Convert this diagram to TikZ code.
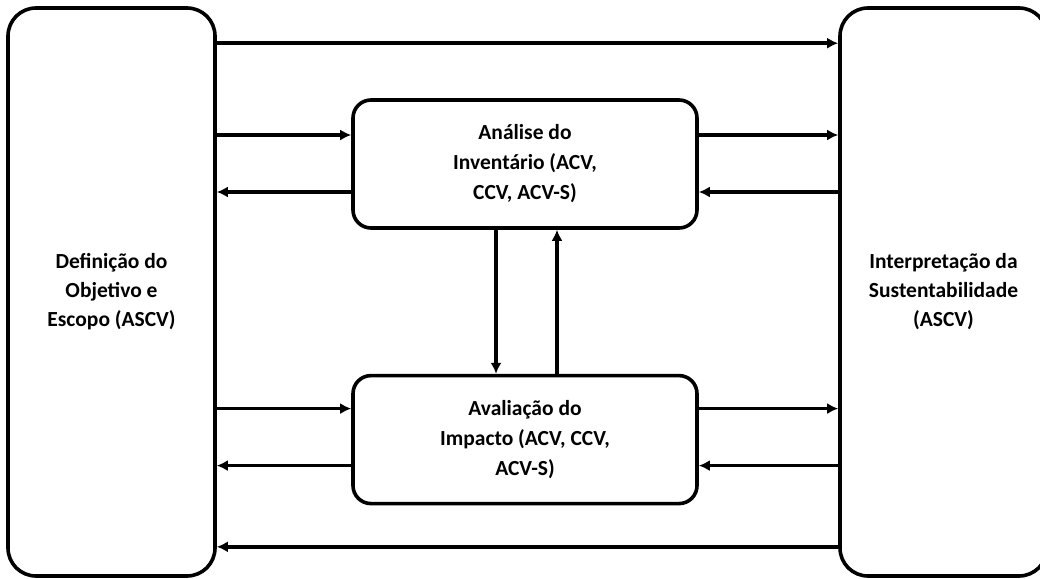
\documentclass[tikz,border=0pt]{standalone}
\usepackage{fontspec}
\setmainfont{Carlito}
\usepackage{tikz}
\usetikzlibrary{arrows.meta, positioning}

\begin{document}
\begin{tikzpicture}[
        x=1pt, y=-1pt,
        bigblock/.style={rectangle, rounded corners=28pt, draw, line width=3.6pt,
                      minimum width=207pt, minimum height=568pt,
                      align=center, font=\fontsize{21.5}{29}\selectfont\bfseries},
        block/.style={rectangle, rounded corners=18pt, draw, line width=3.6pt,
                      minimum width=344pt, minimum height=128pt,
                      align=center, font=\fontsize{21.5}{30}\selectfont\bfseries},
        arrow/.style={-{Latex[length=11pt, width=11pt]}, line width=3.6pt},
    ]
        \useasboundingbox (0,0) rectangle (1040,578);

        \node[bigblock] (objetivo) at (111.5,292) {Definição do\\Objetivo e\\Escopo (ASCV)};
        \node[bigblock] (interpretacao) at (943.5,292) {Interpretação da\\Sustentabilidade\\(ASCV)};
        \node[block] (inventario) at (525,164) {Análise do\\Inventário (ACV,\\CCV, ACV-S)};
        \node[block, below=144pt of inventario] (impacto) {Avaliação do\\Impacto (ACV, CCV,\\ACV-S)};

        % outer loop
        \draw[arrow] ([yshift=-37pt]objetivo.north east) -- ([yshift=-37pt]interpretacao.north west);
        \draw[arrow] ([yshift=31pt]interpretacao.south west) -- ([yshift=31pt]objetivo.south east);

        % inventory
        \draw[arrow] ([yshift=29pt]inventario.west -| objetivo.east) -- ([yshift=29pt]inventario.west);
        \draw[arrow] ([yshift=-28pt]inventario.west) -- ([yshift=-28pt]inventario.west -| objetivo.east);
        \draw[arrow] ([yshift=29pt]inventario.east) -- ([yshift=29pt]inventario.east -| interpretacao.west);
        \draw[arrow] ([yshift=-28pt]inventario.east -| interpretacao.west) -- ([yshift=-28pt]inventario.east);

        % impact
        \draw[arrow] ([yshift=31pt]impacto.west -| objetivo.east) -- ([yshift=31pt]impacto.west);
        \draw[arrow] ([yshift=-26pt]impacto.west) -- ([yshift=-26pt]impacto.west -| objetivo.east);
        \draw[arrow] ([yshift=31pt]impacto.east) -- ([yshift=31pt]impacto.east -| interpretacao.west);
        \draw[arrow] ([yshift=-26pt]impacto.east -| interpretacao.west) -- ([yshift=-26pt]impacto.east);

        % between the two
        \draw[arrow] ([xshift=-29pt]inventario.south) -- ([xshift=-29pt]impacto.north);
        \draw[arrow] ([xshift=32pt]impacto.north) -- ([xshift=32pt]inventario.south);
    \end{tikzpicture}
\end{document}
